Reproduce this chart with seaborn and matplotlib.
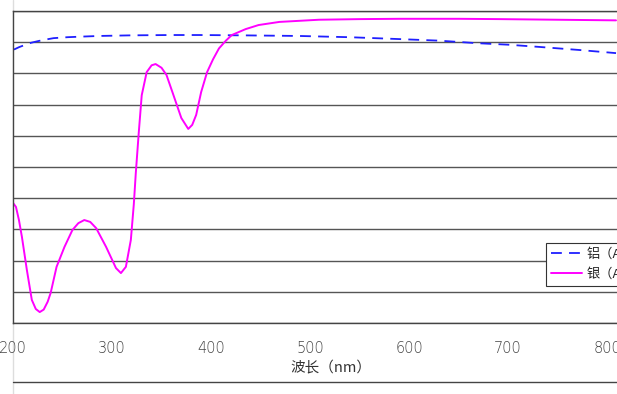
import pandas as pd
import matplotlib.pyplot as plt
import seaborn as sns
from matplotlib.lines import Line2D

# Reflectance curves (wavelength nm, reflectance %)
al_wavelength = [200, 202, 206, 211, 218, 226, 234, 241, 255, 270, 287, 320, 360,
                 388, 430, 489, 540, 590, 630, 668, 700, 731, 772, 809]
al_reflect = [87.6, 87.8, 88.4, 89.0, 89.8, 90.4, 90.9, 91.3, 91.6, 91.8, 92.0, 92.2, 92.3,
              92.3, 92.2, 92.0, 91.6, 91.0, 90.5, 89.7, 89.2, 88.5, 87.5, 86.5]

ag_wavelength = [200, 203, 206, 209, 214, 219, 223, 227, 231, 235, 238, 244, 252, 260,
                 266, 272, 278, 284, 294, 304, 309, 314, 319, 322, 324, 327, 330, 335,
                 340, 344, 350, 355, 361, 370, 377, 381, 385, 390, 396, 402, 408, 415,
                 421, 435, 448, 469, 509, 550, 590, 650, 691, 750, 809]
ag_reflect = [38.5, 37.2, 33.0, 27.6, 17.0, 7.4, 4.5, 3.5, 4.3, 6.8, 9.6, 18.0, 24.4, 29.8,
              32.0, 33.0, 32.4, 30.4, 24.4, 17.6, 16.0, 18.0, 26.6, 38.0, 48.0, 61.0, 73.0, 80.4,
              82.6, 83.0, 81.8, 79.5, 74.0, 65.7, 62.2, 63.5, 66.7, 74.0, 80.4, 84.5, 88.0, 90.5,
              92.3, 94.2, 95.5, 96.5, 97.2, 97.4, 97.5, 97.5, 97.4, 97.2, 97.0]

al_label = '铝（Al）'
ag_label = '银（Ag）'
x_label = '波长（nm）'
x_ticks = [200, 300, 400, 500, 600, 700, 800]

sns.set_theme(style='white')
plt.rcParams['font.family'] = ['Noto Sans CJK SC', 'DejaVu Sans']

fig = plt.figure(figsize=(6.17, 3.94), dpi=100)
ax = fig.add_axes([13 / 617, 71 / 394, 605 / 617, 312 / 394])

al_df = pd.DataFrame({'wl': al_wavelength, 'r': al_reflect})
ag_df = pd.DataFrame({'wl': ag_wavelength, 'r': ag_reflect})

sns.lineplot(data=al_df, x='wl', y='r', ax=ax, color='#1f1fff', linewidth=1.3, label=al_label)
ax.lines[-1].set_dashes([6, 4])
sns.lineplot(data=ag_df, x='wl', y='r', ax=ax, color='#ff00ff', linewidth=1.4, label=ag_label)

ax.set_xlim(200, 811)
ax.set_ylim(0, 100)
ax.set_yticks(range(0, 101, 10))
ax.set_yticklabels([])
ax.set_xticks(x_ticks)
ax.set_xticklabels([str(t) for t in x_ticks], fontsize=10.5, color='#444444',
                   family=['DejaVu Sans'], fontweight='light')
ax.tick_params(axis='x', direction='in', length=3, width=0.8, color='#333333', pad=13)
ax.tick_params(axis='y', length=0)
ax.grid(axis='y', color='#555555', linewidth=1)
ax.set_axisbelow(True)
for side in ['left', 'top', 'bottom', 'right']:
    ax.spines[side].set_color('#444444')
    ax.spines[side].set_linewidth(1)
ax.set_xlabel(x_label, fontsize=10.5, color='#333333')
ax.xaxis.set_label_coords((331 - 13) / 605, (323 - 361) / 312)
ax.set_ylabel('')

leg = ax.legend(loc='upper left', bbox_to_anchor=(546 / 617, 1 - 243 / 394),
                bbox_transform=fig.transFigure, frameon=True, fancybox=False,
                fontsize=9.5, handlelength=2.4, borderpad=0.35, labelspacing=0.45,
                handletextpad=0.3, borderaxespad=0)
leg.get_frame().set_edgecolor('#333333')
leg.get_frame().set_linewidth(0.8)
leg.get_frame().set_facecolor('white')
leg.get_frame().set_alpha(1)

# outer chart border pieces visible at the crop
fig.add_artist(Line2D([13 / 617, 1], [1 - 382 / 394] * 2, transform=fig.transFigure,
                      color='#444444', linewidth=1))
fig.add_artist(Line2D([13 / 617] * 2, [0, 1], transform=fig.transFigure,
                      color='#dddddd', linewidth=1, zorder=0))

fig.savefig('out.png', dpi=100)
